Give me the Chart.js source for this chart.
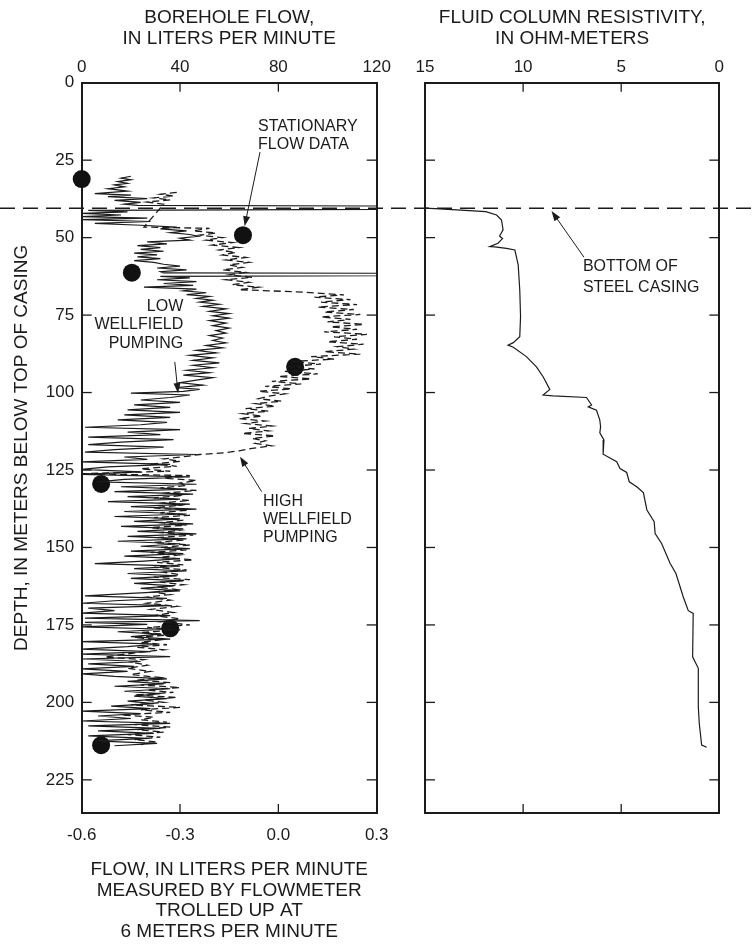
<!DOCTYPE html>
<html>
<head>
<meta charset="utf-8">
<title>Borehole flow and fluid resistivity</title>
<script src="https://cdn.jsdelivr.net/npm/chart.js@4.4.1/dist/chart.umd.min.js"></script>
<style>
  html, body { margin: 0; padding: 0; background: #fff; }
  #wrap { position: relative; width: 753px; height: 948px; }
  #wrap canvas { position: absolute; left: 0; top: 0; }
</style>
</head>
<body>
<div id="wrap">
  <canvas id="flowChart" width="753" height="948"></canvas>
  <canvas id="resChart" width="753" height="948"></canvas>
</div>
<script>
// ---- data ----
const depthTicks = [0, 25, 50, 75, 100, 125, 150, 175, 200, 225];
const depthMax = 235.7;
const casingDepth = 40.5;
const stationTicks = [0, 40, 80, 120];          // borehole flow, L/min (top)
const trollTicks = [-0.6, -0.3, 0.0, 0.3];      // flowmeter flow, L/min (bottom)
const resTicks = [15, 10, 5, 0];                // ohm-m

// stationary flow data: [depth m, flow L/min]
const stationary = [[31.1, 0], [49.2, 65.6], [61.3, 20.4], [91.7, 86.8], [129.5, 7.9], [176.1, 36.0], [213.8, 7.9]];

// trolled log, low wellfield pumping: [depth m, flow]
const lowPumping = [
  [30.2,-0.45],[30.8,-0.48],[31.3,-0.45],[31.9,-0.49],[32.5,-0.46],[33.0,-0.50],[33.6,-0.47],[34.2,-0.52],[35.0,-0.46],
  [35.8,-0.56],[36.3,-0.45],[36.8,-0.52],[37.4,-0.40],[38.0,-0.50],[38.6,-0.42],[39.2,-0.47],[39.6,-0.43],[39.8,0.30],
  [40.9,0.30],[41.2,-0.58],[41.7,-0.46],[42.2,-0.60],[42.7,-0.48],[43.2,-0.60],[43.7,-0.40],[44.2,-0.60],[44.8,-0.39],
  [45.4,-0.56],[46.0,-0.42],[46.6,-0.31],[47.2,-0.36],[47.8,-0.28],[48.4,-0.33],[49.0,-0.27],[49.6,-0.245],[50.2,-0.30],
  [50.8,-0.27],[51.4,-0.40],[52.0,-0.34],[52.6,-0.43],[53.2,-0.36],[53.8,-0.42],[54.4,-0.35],[55.0,-0.44],[55.6,-0.37],
  [56.2,-0.43],[56.8,-0.36],[57.4,-0.44],[58.0,-0.38],[58.6,-0.35],[59.2,-0.30],[59.8,-0.37],[60.4,-0.28],[61.0,-0.36],
  [61.4,-0.35],[61.5,0.30],[62.3,0.30],[62.5,-0.36],[63.0,-0.27],[63.6,-0.37],[64.2,-0.25],[64.8,-0.35],[65.4,-0.26],
  [66.0,-0.41],[66.6,-0.25],[67.2,-0.29],[67.8,-0.22],[68.4,-0.28],[69.0,-0.21],[69.6,-0.25],[70.2,-0.20],[70.8,-0.24],
  [71.5,-0.18],[72.2,-0.23],[73.0,-0.16],[73.8,-0.21],[74.5,-0.15],[75.2,-0.20],[76.0,-0.15],[76.8,-0.21],[77.6,-0.16],
  [78.4,-0.20],[79.2,-0.15],[80.0,-0.19],[80.8,-0.16],[81.6,-0.21],[82.4,-0.17],[83.2,-0.20],[84.0,-0.16],[84.8,-0.22],
  [85.6,-0.17],[86.4,-0.25],[87.2,-0.19],[88.0,-0.27],[88.8,-0.20],[89.6,-0.26],[90.4,-0.18],[91.2,-0.26],[92.0,-0.20],
  [92.8,-0.28],[93.6,-0.21],[94.4,-0.29],[95.2,-0.20],[96.0,-0.25],[96.8,-0.30],[97.6,-0.23],[98.4,-0.31],[99.0,-0.24],
  [99.6,-0.29],[100.2,-0.45],[100.8,-0.27],[101.6,-0.33],[102.4,-0.42],[103.2,-0.30],[104.0,-0.44],[104.8,-0.33],
  [105.6,-0.46],[106.4,-0.30],[107.2,-0.47],[108.0,-0.33],[108.8,-0.49],[109.6,-0.34],[110.4,-0.42],[111.2,-0.59],
  [112.0,-0.30],[112.8,-0.46],[113.6,-0.36],[114.4,-0.58],[115.2,-0.32],[116.0,-0.48],[116.8,-0.58],[117.6,-0.35],
  [118.4,-0.50],[119.2,-0.59],[120.0,-0.25],[120.8,-0.47],[121.6,-0.40],[122.4,-0.60],[123.2,-0.33],[124.0,-0.52],
  [124.8,-0.60],[125.6,-0.42],[126.4,-0.60],[127.2,-0.27],[128.0,-0.47],[128.8,-0.55],[129.6,-0.25],[130.4,-0.48],
  [131.2,-0.28],[132.0,-0.50],[132.8,-0.26],[133.6,-0.46],[134.4,-0.30],[135.2,-0.52],[136.0,-0.27],[136.8,-0.45],
  [137.6,-0.25],[138.4,-0.47],[139.2,-0.28],[140.0,-0.50],[140.8,-0.30],[141.6,-0.44],[142.4,-0.26],[143.2,-0.48],
  [144.0,-0.29],[144.8,-0.43],[145.6,-0.25],[146.4,-0.46],[147.2,-0.28],[148.0,-0.49],[148.8,-0.30],[149.6,-0.42],
  [150.4,-0.27],[151.2,-0.45],[152.0,-0.29],[152.8,-0.47],[153.6,-0.30],[154.4,-0.41],[155.2,-0.56],[156.0,-0.30],
  [156.8,-0.44],[157.6,-0.28],[158.4,-0.46],[159.2,-0.31],[160.0,-0.45],[160.8,-0.29],[161.6,-0.44],[162.4,-0.32],
  [163.2,-0.42],[164.0,-0.30],[164.8,-0.45],[165.6,-0.59],[166.4,-0.34],[167.2,-0.50],[168.0,-0.60],[168.8,-0.33],
  [169.6,-0.58],[170.4,-0.50],[171.2,-0.60],[172.0,-0.33],[172.8,-0.59],[173.6,-0.24],[174.2,-0.59],[174.8,-0.40],
  [175.6,-0.60],[176.4,-0.34],[177.2,-0.49],[178.0,-0.36],[178.8,-0.45],[179.6,-0.33],[180.4,-0.60],[181.2,-0.37],
  [182.0,-0.46],[182.8,-0.60],[183.6,-0.39],[184.4,-0.60],[185.2,-0.33],[186.0,-0.60],[186.8,-0.42],[187.6,-0.58],
  [188.4,-0.44],[189.2,-0.60],[190.0,-0.46],[190.8,-0.60],[191.6,-0.50],[192.4,-0.34],[193.2,-0.46],[194.0,-0.35],
  [194.8,-0.50],[195.6,-0.33],[196.4,-0.47],[197.2,-0.36],[198.0,-0.44],[198.8,-0.34],[199.6,-0.46],[200.4,-0.38],
  [201.2,-0.51],[202.0,-0.39],[202.8,-0.60],[203.6,-0.42],[204.4,-0.55],[205.2,-0.45],[206.0,-0.60],[206.8,-0.33],
  [207.6,-0.58],[208.4,-0.36],[209.2,-0.55],[210.0,-0.38],[210.8,-0.58],[211.6,-0.40],[212.4,-0.56],[213.2,-0.37],
  [214.0,-0.50]
];

// trolled log, high wellfield pumping: [depth m, flow]
const highPumping = [
  [35.4,-0.31],[36.0,-0.36],[36.6,-0.32],[37.2,-0.38],[37.8,-0.33],[38.5,-0.40],[39.2,-0.35],[46.6,-0.41],[47.0,-0.21],
  [47.8,-0.26],[48.5,-0.19],[49.2,-0.24],[50.0,-0.17],[50.8,-0.22],[51.6,-0.14],[52.4,-0.20],[53.2,-0.12],[54.0,-0.18],
  [54.8,-0.13],[55.6,-0.17],[56.4,-0.10],[57.2,-0.16],[58.0,-0.09],[58.8,-0.15],[59.6,-0.11],[60.4,-0.17],[61.2,-0.10],
  [62.0,-0.15],[62.8,-0.08],[63.6,-0.16],[64.4,-0.09],[65.2,-0.14],[66.0,-0.06],[66.8,-0.12],[67.6,0.08],[68.5,0.20],
  [69.2,0.11],[70.0,0.22],[70.8,0.13],[71.6,0.24],[72.4,0.12],[73.2,0.23],[74.0,0.14],[74.8,0.25],[75.6,0.13],
  [76.4,0.22],[77.2,0.15],[78.0,0.26],[78.8,0.16],[79.6,0.24],[80.4,0.14],[81.2,0.27],[82.0,0.17],[82.8,0.24],
  [83.6,0.15],[84.4,0.26],[85.2,0.18],[86.0,0.23],[86.8,0.14],[87.6,0.25],[88.4,0.10],[89.2,0.17],[90.0,0.04],
  [90.8,0.13],[91.6,0.03],[92.4,0.11],[93.2,0.02],[94.0,0.12],[94.8,0.00],[95.6,0.10],[96.4,-0.02],[97.2,0.07],
  [98.0,-0.04],[98.8,0.04],[99.6,-0.06],[100.4,0.02],[101.2,-0.03],[102.0,-0.06],[102.8,0.01],[103.6,-0.07],
  [104.4,-0.01],[105.2,-0.10],[106.0,-0.03],[106.8,-0.11],[107.6,-0.05],[108.4,-0.12],[109.2,-0.04],[110.0,-0.10],
  [110.8,-0.02],[111.6,-0.09],[112.4,-0.03],[113.2,-0.11],[114.0,-0.01],[114.8,-0.08],[115.6,-0.04],[116.4,-0.07],
  [117.2,-0.02],[118.0,-0.08],[118.8,-0.12],[119.4,-0.16],[120.0,-0.24],[120.6,-0.28],[121.4,-0.35],[122.2,-0.30],
  [123.0,-0.38],[123.8,-0.31],[124.6,-0.42],[125.4,-0.33],[126.2,-0.60],[126.8,-0.27],[127.6,-0.35],[128.4,-0.25],
  [129.2,-0.30],[130.0,-0.28],[130.8,-0.36],[131.6,-0.25],[132.4,-0.34],[133.2,-0.29],[134.0,-0.38],[134.8,-0.27],
  [135.6,-0.35],[136.4,-0.30],[137.2,-0.38],[138.0,-0.28],[138.8,-0.36],[139.6,-0.27],[140.4,-0.38],[141.2,-0.29],
  [142.0,-0.36],[142.8,-0.28],[143.6,-0.39],[144.4,-0.30],[145.2,-0.36],[146.0,-0.26],[146.8,-0.37],[147.6,-0.29],
  [148.4,-0.38],[149.2,-0.27],[150.0,-0.36],[150.8,-0.28],[151.6,-0.39],[152.4,-0.30],[153.2,-0.36],[154.0,-0.26],
  [154.8,-0.37],[155.6,-0.29],[156.4,-0.38],[157.2,-0.28],[158.0,-0.35],[158.8,-0.30],[159.6,-0.38],[160.4,-0.27],
  [161.2,-0.36],[162.0,-0.29],[162.8,-0.37],[163.6,-0.31],[164.4,-0.38],[165.2,-0.33],[166.0,-0.40],[167.0,-0.33],
  [168.0,-0.40],[169.0,-0.31],[170.0,-0.39],[171.0,-0.32],[172.0,-0.38],[173.0,-0.30],[174.0,-0.36],[175.0,-0.27],
  [175.8,-0.40],[176.6,-0.30],[177.4,-0.42],[178.2,-0.33],[179.0,-0.44],[179.8,-0.36],[180.6,-0.42],[181.4,-0.34],
  [182.2,-0.43],[183.0,-0.35],[183.8,-0.42],[184.6,-0.48],[185.4,-0.53],[186.2,-0.41],[187.0,-0.45],[188.0,-0.40],
  [189.0,-0.46],[190.0,-0.39],[191.0,-0.45],[192.0,-0.36],[192.8,-0.43],[193.6,-0.33],[194.4,-0.42],[195.2,-0.30],
  [196.0,-0.40],[196.8,-0.32],[197.6,-0.44],[198.4,-0.31],[199.2,-0.41],[200.0,-0.35],[200.8,-0.45],[201.6,-0.30],
  [202.4,-0.42],[203.2,-0.33],[204.0,-0.48],[204.8,-0.38],[205.6,-0.42],[206.4,-0.34],[207.2,-0.44],[208.0,-0.33],
  [208.8,-0.43],[209.6,-0.35],[210.4,-0.46],[211.2,-0.36],[212.0,-0.44],[212.8,-0.37],[213.6,-0.42]
];

// fluid column resistivity: [depth m, ohm-m]
const resistivity = [
  [40.5,15.0],[40.7,14.25],[41.6,11.9],[42.7,11.35],[44.3,11.1],[47.5,11.02],[49.5,11.2],[50.3,11.05],[51.8,11.28],
  [52.9,11.7],[53.0,11.44],[53.5,10.85],[54.0,10.42],[58.8,10.25],[66.9,10.17],[75.5,10.13],[82.0,10.17],[83.9,10.5],
  [84.7,10.77],[85.4,10.5],[88.4,9.83],[91.7,9.32],[94.9,8.98],[99.0,8.64],[100.8,8.98],[101.1,8.47],[101.6,6.77],
  [104.0,6.51],[104.6,6.68],[105.7,6.26],[108.9,6.09],[111.0,6.05],[113.0,6.09],[115.3,5.88],[119.9,5.92],[122.3,5.23],
  [124.5,5.06],[125.8,4.72],[128.8,4.59],[130.4,4.21],[132.3,3.87],[137.9,3.69],[141.7,3.32],[145.5,3.27],[148.7,2.94],
  [155.1,2.51],[158.4,2.21],[165.9,1.84],[170.4,1.58],[171.3,1.33],[185.3,1.36],[189.0,1.07],[201.4,1.07],[206.8,1.02],
  [213.8,0.90],[214.5,0.64]
];

// ---- styling ----
const ink = '#1b1b1b';
Chart.defaults.font.family = '"Liberation Sans", Arial, Helvetica, sans-serif';
Chart.defaults.color = ink;

const toXY = (pairs) => pairs.map(p => ({x: p[1], y: p[0]}));
const setTicks = (vals) => (s) => { s.ticks = vals.map(v => ({value: v})); };
const fixWidth = (w) => (s) => { s.width = w; };
const fixHeight = (h) => (s) => { s.height = h; };
const frame = {display: true, color: ink, width: 2};
const noGrid = {display: false, drawTicks: false};
const tickFont = {size: 17};
const titleFont = {size: 19, lineHeight: 1.08};

// short tick marks pointing into the plot, plus notes and arrows
const logExtras = {
  id: 'logExtras',
  afterDatasetsDraw(chart, args, opts) {
    const ctx = chart.ctx;
    const ca = chart.chartArea;
    ctx.save();
    ctx.strokeStyle = ink;
    ctx.fillStyle = ink;

    // casing line across the whole figure
    if (opts.casing != null) {
      const yc = chart.scales.y.getPixelForValue(opts.casing);
      ctx.lineWidth = 1.4;
      ctx.setLineDash([15, 8]);
      ctx.beginPath();
      ctx.moveTo(0, yc);
      ctx.lineTo(chart.width, yc);
      ctx.stroke();
      ctx.setLineDash([]);
    }

    ctx.lineWidth = 1.3;
    (opts.marks || []).forEach(m => {
      const s = chart.scales[m.scale];
      m.values.forEach(v => {
        const p = s.getPixelForValue(v);
        ctx.beginPath();
        if (m.side === 'top') { ctx.moveTo(p, ca.top); ctx.lineTo(p, ca.top + 9); }
        if (m.side === 'bottom') { ctx.moveTo(p, ca.bottom); ctx.lineTo(p, ca.bottom - 9); }
        if (m.side === 'left') { ctx.moveTo(ca.left, p); ctx.lineTo(ca.left + 10, p); }
        if (m.side === 'right') { ctx.moveTo(ca.right, p); ctx.lineTo(ca.right - 10, p); }
        ctx.stroke();
      });
    });

    const sx = chart.scales.x, sy = chart.scales.y;
    ctx.font = '16px "Liberation Sans", Arial, sans-serif';
    ctx.textBaseline = 'middle';
    (opts.notes || []).forEach(n => {
      const tx = sx.getPixelForValue(n.at[0]);
      const ty = sy.getPixelForValue(n.at[1]);
      ctx.textAlign = n.align;
      n.lines.forEach((t, i) => ctx.fillText(t, tx, ty + i * n.step));
      if (n.arrow) {
        const x1 = sx.getPixelForValue(n.arrow[0][0]), y1 = sy.getPixelForValue(n.arrow[0][1]);
        const x2 = sx.getPixelForValue(n.arrow[1][0]), y2 = sy.getPixelForValue(n.arrow[1][1]);
        const a = Math.atan2(y2 - y1, x2 - x1);
        ctx.lineWidth = 1;
        ctx.beginPath();
        ctx.moveTo(x1, y1);
        ctx.lineTo(x2 - 6 * Math.cos(a), y2 - 6 * Math.sin(a));
        ctx.stroke();
        ctx.beginPath();
        ctx.moveTo(x2, y2);
        ctx.lineTo(x2 - 10 * Math.cos(a) + 3.5 * Math.sin(a), y2 - 10 * Math.sin(a) - 3.5 * Math.cos(a));
        ctx.lineTo(x2 - 10 * Math.cos(a) - 3.5 * Math.sin(a), y2 - 10 * Math.sin(a) + 3.5 * Math.cos(a));
        ctx.closePath();
        ctx.fill();
      }
    });
    ctx.restore();
  }
};

const depthScale = (extra) => Object.assign({
  type: 'linear', axis: 'y', reverse: true, min: 0, max: depthMax,
  afterBuildTicks: setTicks(depthTicks),
  grid: noGrid, border: frame
}, extra);

// ---- left panel: borehole flow ----
new Chart(document.getElementById('flowChart'), {
  type: 'scatter',
  data: {
    datasets: [
      {label: 'Low wellfield pumping', data: toXY(lowPumping), xAxisID: 'x', yAxisID: 'y',
        showLine: true, pointRadius: 0, borderColor: ink, borderWidth: 1.2, tension: 0},
      {label: 'High wellfield pumping', data: toXY(highPumping), xAxisID: 'x', yAxisID: 'y',
        showLine: true, pointRadius: 0, borderColor: ink, borderWidth: 1.3, borderDash: [7, 4], tension: 0},
      {label: 'Stationary flow data', data: toXY(stationary), xAxisID: 'x2', yAxisID: 'y',
        pointRadius: 9, pointBackgroundColor: '#111', pointBorderWidth: 0, clip: false}
    ]
  },
  options: {
    responsive: false, animation: false, devicePixelRatio: 1,
    layout: {padding: {left: 0, right: 376.3, top: 0, bottom: 0}},
    plugins: {
      legend: {display: false}, tooltip: {enabled: false},
      logExtras: {
        casing: casingDepth,
        marks: [
          {scale: 'x2', side: 'top', values: [40, 80]},
          {scale: 'x', side: 'bottom', values: [-0.3, 0.0]},
          {scale: 'y', side: 'left', values: depthTicks.slice(1)},
          {scale: 'y', side: 'right', values: depthTicks.slice(1)}
        ],
        notes: [
          {lines: ['STATIONARY', 'FLOW DATA'], at: [-0.062, 14.3], align: 'left', step: 18,
            arrow: [[-0.056, 22.4], [-0.103, 46.3]]},
          {lines: ['LOW', 'WELLFIELD', 'PUMPING'], at: [-0.29, 72.3], align: 'right', step: 18.2,
            arrow: [[-0.316, 90.1], [-0.306, 100.2]]},
          {lines: ['HIGH', 'WELLFIELD', 'PUMPING'], at: [-0.047, 135.2], align: 'left', step: 18.2,
            arrow: [[-0.051, 132], [-0.117, 120.7]]}
        ]
      }
    },
    scales: {
      x: {
        type: 'linear', axis: 'x', position: 'bottom', min: -0.6, max: 0.3,
        afterBuildTicks: setTicks(trollTicks), afterFit: fixHeight(135),
        grid: noGrid, border: frame,
        ticks: {font: tickFont, padding: 12, callback: v => v.toFixed(1)},
        title: {display: true, font: titleFont, padding: {top: 0, bottom: 6},
          text: ['FLOW, IN LITERS PER MINUTE', 'MEASURED BY FLOWMETER', 'TROLLED UP AT', '6 METERS PER MINUTE']}
      },
      x2: {
        type: 'linear', axis: 'x', position: 'top', min: 0, max: 120,
        afterBuildTicks: setTicks(stationTicks), afterFit: fixHeight(82.7),
        grid: noGrid, border: frame,
        ticks: {font: tickFont, padding: 5.5},
        title: {display: true, font: titleFont, padding: {top: 8, bottom: 0},
          text: ['BOREHOLE FLOW,', 'IN LITERS PER MINUTE']}
      },
      y: depthScale({
        position: 'left', afterFit: fixWidth(81.7),
        ticks: {font: tickFont, padding: 7.5},
        title: {display: true, font: titleFont, padding: {top: 11.5, bottom: 0},
          text: 'DEPTH, IN METERS BELOW TOP OF CASING'}
      }),
      y2: depthScale({position: 'right', afterFit: fixWidth(0), ticks: {display: false}})
    }
  },
  plugins: [logExtras]
});

// ---- right panel: fluid column resistivity ----
new Chart(document.getElementById('resChart'), {
  type: 'scatter',
  data: {
    datasets: [
      {label: 'Fluid column resistivity', data: toXY(resistivity), xAxisID: 'x', yAxisID: 'y',
        showLine: true, pointRadius: 0, borderColor: ink, borderWidth: 1.2, tension: 0}
    ]
  },
  options: {
    responsive: false, animation: false, devicePixelRatio: 1,
    layout: {padding: {left: 425, right: 33.7, top: 0, bottom: 135}},
    plugins: {
      legend: {display: false}, tooltip: {enabled: false},
      logExtras: {
        marks: [
          {scale: 'x', side: 'top', values: [10, 5]},
          {scale: 'x', side: 'bottom', values: [10, 5]},
          {scale: 'y', side: 'left', values: depthTicks.slice(1)},
          {scale: 'y', side: 'right', values: depthTicks.slice(1)}
        ],
        notes: [
          {lines: ['BOTTOM OF', 'STEEL CASING'], at: [6.95, 59.5], align: 'left', step: 20.5,
            arrow: [[6.9, 56.3], [8.55, 41.4]]}
        ]
      }
    },
    scales: {
      x: {
        type: 'linear', axis: 'x', position: 'top', min: 0, max: 15, reverse: true,
        afterBuildTicks: setTicks(resTicks), afterFit: fixHeight(82.7),
        grid: noGrid, border: frame,
        ticks: {font: tickFont, padding: 5.5},
        title: {display: true, font: titleFont, padding: {top: 8, bottom: 0},
          text: ['FLUID COLUMN RESISTIVITY,', 'IN OHM-METERS']}
      },
      x2: {
        type: 'linear', axis: 'x', position: 'bottom', min: 0, max: 15, reverse: true,
        afterFit: fixHeight(0), grid: noGrid, border: frame, ticks: {display: false}
      },
      y: depthScale({position: 'left', afterFit: fixWidth(0), ticks: {display: false}}),
      y2: depthScale({position: 'right', afterFit: fixWidth(0), ticks: {display: false}})
    }
  },
  plugins: [logExtras]
});
</script>
</body>
</html>
